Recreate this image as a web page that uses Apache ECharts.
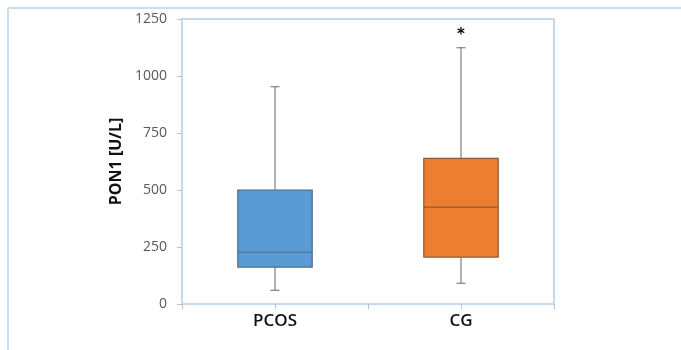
<!DOCTYPE html>
<html>
<head>
<meta charset="utf-8">
<script src="https://cdn.jsdelivr.net/npm/echarts@6/dist/echarts.min.js"></script>
<style>html,body{margin:0;padding:0;background:#fff;}#c{width:681px;height:350px;}</style>
</head>
<body>
<div id="c"></div>
<script>
var categories = ['PCOS', 'CG'];
var mins = [60, 91];
var q1s = [162, 206];
var medians = [227, 425];
var q3s = [500, 639];
var maxs = [953, 1124];
var marks = ['', '*'];
var colors = ['#5b9bd5', '#ed7d31'];
var borderColors = ['#4a6c8c', '#8a5a3a'];
var yTicks = [0, 250, 500, 750, 1000, 1250];

var data = categories.map(function (c, i) {
  return [i, mins[i], q1s[i], medians[i], q3s[i], maxs[i]];
});

var chart = echarts.init(document.getElementById('c'));
chart.setOption({
  backgroundColor: '#ffffff',
  animation: false,
  graphic: [
    { type: 'line', shape: { x1: 8, y1: 8, x2: 681, y2: 8 }, style: { stroke: '#c9def0', lineWidth: 2 } },
    { type: 'line', shape: { x1: 8, y1: 8, x2: 8, y2: 350 }, style: { stroke: '#c9def0', lineWidth: 2 } }
  ],
  grid: { left: 182, top: 19, right: 127, bottom: 46, show: true, borderColor: '#c3daf0', borderWidth: 2, backgroundColor: '#fff' },
  xAxis: [{
    type: 'category',
    data: categories,
    boundaryGap: true,
    axisLine: { show: false },
    axisTick: { show: true, alignWithLabel: true, length: 5, lineStyle: { color: '#bfbfbf' } },
    axisLabel: { margin: 9, color: '#111', fontSize: 17, fontWeight: 600, fontFamily: 'Open Sans' }
  }, {
    type: 'category',
    data: categories,
    position: 'bottom',
    boundaryGap: true,
    axisLine: { show: false },
    axisTick: { show: true, length: 5, lineStyle: { color: '#bfbfbf' } },
    axisLabel: { show: false }
  }],
  yAxis: {
    type: 'value',
    min: yTicks[0],
    max: yTicks[yTicks.length - 1],
    interval: 250,
    name: 'PON1 [U/L]',
    nameLocation: 'middle',
    nameGap: 52,
    nameTextStyle: { fontSize: 16, fontWeight: 'bold', color: '#111', fontFamily: 'Open Sans' },
    axisLine: { show: false },
    axisTick: { show: true, length: 5, lineStyle: { color: '#bfbfbf' } },
    splitLine: { show: false },
    axisLabel: { margin: 15, color: '#595959', fontSize: 14, fontFamily: 'Open Sans', formatter: function (v) { return String(v); } }
  },
  series: [{
    type: 'custom',
    data: data,
    encode: { x: 0, y: [1, 2, 3, 4, 5] },
    renderItem: function (params, api) {
      var i = api.value(0);
      var pMin = api.coord([i, api.value(1)]);
      var pQ1 = api.coord([i, api.value(2)]);
      var pMed = api.coord([i, api.value(3)]);
      var pQ3 = api.coord([i, api.value(4)]);
      var pMax = api.coord([i, api.value(5)]);
      var bw = api.size([1, 0])[0] * 0.4;
      var cw = bw * 0.12;
      var x = pMed[0];
      var wStyle = { stroke: '#7f7f7f', lineWidth: 1.2 };
      var children = [
        { type: 'line', shape: { x1: x, y1: pMin[1], x2: x, y2: pQ1[1] }, style: wStyle },
        { type: 'line', shape: { x1: x, y1: pQ3[1], x2: x, y2: pMax[1] }, style: wStyle },
        { type: 'line', shape: { x1: x - cw / 2, y1: pMin[1], x2: x + cw / 2, y2: pMin[1] }, style: wStyle },
        { type: 'line', shape: { x1: x - cw / 2, y1: pMax[1], x2: x + cw / 2, y2: pMax[1] }, style: wStyle },
        { type: 'rect', shape: { x: x - bw / 2, y: pQ3[1], width: bw, height: pQ1[1] - pQ3[1] },
          style: { fill: colors[i], stroke: borderColors[i], lineWidth: 1.2 } },
        { type: 'line', shape: { x1: x - bw / 2, y1: pMed[1], x2: x + bw / 2, y2: pMed[1] },
          style: { stroke: borderColors[i], lineWidth: 1.2 } }
      ];
      if (marks[i]) {
        children.push({ type: 'text', style: { text: marks[i], x: x, y: pMax[1] - 13, align: 'center', verticalAlign: 'middle', fontSize: 15, fontWeight: 'bold', fill: '#000', fontFamily: 'DejaVu Sans' } });
      }
      return { type: 'group', children: children };
    }
  }]
});
</script>
</body>
</html>
